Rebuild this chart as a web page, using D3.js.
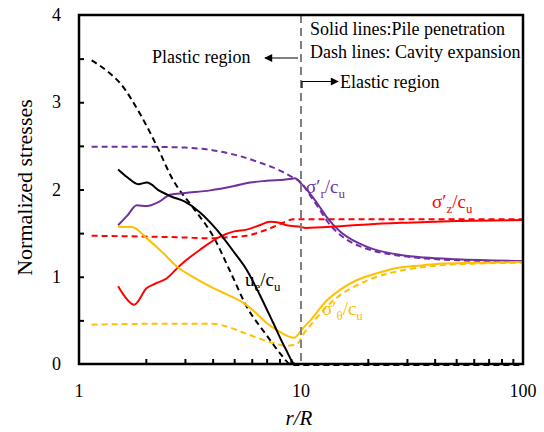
<!DOCTYPE html>
<html>
<head>
<meta charset="utf-8">
<script src="https://cdn.jsdelivr.net/npm/d3@7"></script>
<style>
  body { margin: 0; background: #fff; }
</style>
</head>
<body>
<div id="chart"></div>
<script>
// Normalized stresses around the pile: pile penetration (solid) vs cavity expansion (dash)

// r/R values and normalized stresses
const ueSolidR = [1.5, 1.65, 1.85, 2.02, 2.32, 2.6, 3.0, 3.5, 4.17, 5.0, 5.69, 6.5, 7.5, 8.5, 9.4, 10, 100];
const ueSolidV = [2.23, 2.14, 2.06, 2.08, 1.98, 1.92, 1.86, 1.74, 1.54, 1.28, 1.08, 0.80, 0.47, 0.18, 0, 0, 0];
const ueDashR = [1.14, 1.38, 1.53, 1.88, 2.24, 2.65, 3.27, 4.03, 4.8, 5.69, 7.0, 8.3, 8.9, 10, 100];
const ueDashV = [3.48, 3.33, 3.22, 2.87, 2.50, 2.11, 1.79, 1.46, 1.06, 0.66, 0.33, 0.08, 0, -0.02, -0.02];

const srSolidR = [1.5, 1.65, 1.82, 2.02, 2.3, 2.57, 3.0, 3.9, 5.0, 5.9, 7.0, 8.9, 9.4, 10, 11, 12, 13, 15, 18, 21, 28, 36, 50, 100];
const srSolidV = [1.59, 1.70, 1.82, 1.81, 1.86, 1.94, 1.96, 1.99, 2.04, 2.08, 2.10, 2.12, 2.13, 2.07, 1.95, 1.82, 1.69, 1.52, 1.39, 1.32, 1.25, 1.22, 1.20, 1.18];
const srDashR = [1.14, 2, 3, 4, 5, 6.5, 8, 9, 10, 11, 12, 13, 15, 18, 21, 28, 36, 50, 70, 100];
const srDashV = [2.49, 2.49, 2.48, 2.45, 2.40, 2.31, 2.22, 2.15, 2.08, 1.93, 1.79, 1.65, 1.48, 1.36, 1.30, 1.24, 1.21, 1.19, 1.18, 1.18];

const szSolidR = [1.5, 1.6, 1.77, 2.02, 2.2, 2.48, 2.85, 3.51, 4.32, 5.0, 5.69, 6.5, 7.25, 8.0, 8.6, 10, 10.5, 15, 20, 30, 50, 100];
const szSolidV = [0.89, 0.78, 0.68, 0.87, 0.92, 0.98, 1.13, 1.31, 1.46, 1.52, 1.54, 1.59, 1.63, 1.62, 1.59, 1.57, 1.56, 1.58, 1.60, 1.62, 1.64, 1.65];
const szDashR = [1.14, 2, 3, 3.76, 4.5, 5.69, 6.5, 7.5, 8.5, 9.23, 10, 100];
const szDashV = [1.47, 1.46, 1.45, 1.44, 1.45, 1.47, 1.51, 1.57, 1.63, 1.66, 1.66, 1.66];

const stSolidR = [1.5, 1.73, 2.02, 2.4, 2.75, 3.3, 3.89, 4.6, 5.5, 6.3, 7.0, 8.0, 9.3, 10.2, 11.2, 12.2, 13.1, 15, 17.8, 22, 27, 35, 42, 60, 100];
const stSolidV = [1.57, 1.57, 1.44, 1.27, 1.12, 0.99, 0.89, 0.80, 0.70, 0.58, 0.47, 0.37, 0.30, 0.41, 0.52, 0.64, 0.73, 0.85, 0.96, 1.04, 1.10, 1.13, 1.15, 1.16, 1.17];
const stDashR = [1.14, 2, 3, 4, 4.62, 5.5, 6.53, 7.5, 8.6, 9.5, 10.3, 11.5, 13.1, 15, 17.8, 22, 27, 35, 42, 60, 100];
const stDashV = [0.45, 0.46, 0.46, 0.46, 0.43, 0.36, 0.29, 0.24, 0.21, 0.22, 0.35, 0.50, 0.66, 0.79, 0.90, 1.00, 1.06, 1.11, 1.13, 1.15, 1.16];

const xTickLabels = [1, 10, 100];
const yTickLabels = [0, 1, 2, 3, 4];
const boundaryR = 10;

const series = [
  { r: srDashR, v: srDashV, color: '#7030A0', dash: true },
  { r: szDashR, v: szDashV, color: '#FF0000', dash: true },
  { r: stDashR, v: stDashV, color: '#FFC000', dash: true },
  { r: ueDashR, v: ueDashV, color: '#000000', dash: true },
  { r: srSolidR, v: srSolidV, color: '#7030A0', dash: false },
  { r: szSolidR, v: szSolidV, color: '#FF0000', dash: false },
  { r: stSolidR, v: stSolidV, color: '#FFC000', dash: false },
  { r: ueSolidR, v: ueSolidV, color: '#000000', dash: false }
];

const W = 544, H = 432;
const margin = { top: 15, right: 21, bottom: 68, left: 79 };
const FONT = '"Liberation Serif", "Times New Roman", "DejaVu Serif", serif';

const svg = d3.select('#chart').append('svg')
  .attr('width', W).attr('height', H)
  .attr('font-family', FONT)
  .style('font-family', FONT);

const x = d3.scaleLog().domain([1, 100]).range([margin.left, W - margin.right]);
const y = d3.scaleLinear().domain([0, 4]).range([H - margin.bottom, margin.top]);

svg.append('defs').append('marker')
  .attr('id', 'arrow')
  .attr('viewBox', '0 0 10 10')
  .attr('refX', 9).attr('refY', 5)
  .attr('markerWidth', 10).attr('markerHeight', 8)
  .attr('markerUnits', 'userSpaceOnUse')
  .attr('orient', 'auto')
  .append('path').attr('d', 'M0,0 L10,5 L0,10 Z').attr('fill', '#000');

const line = d3.line()
  .x(d => x(d[0]))
  .y(d => y(d[1]))
  .curve(d3.curveMonotoneX);

const plot = svg.append('g');
plot.append('clipPath').attr('id', 'clip')
  .append('rect')
  .attr('x', margin.left).attr('y', margin.top - 2)
  .attr('width', W - margin.left - margin.right)
  .attr('height', H - margin.top - margin.bottom + 4);

const curves = plot.append('g').attr('clip-path', 'url(#clip)');
series.forEach(s => {
  curves.append('path')
    .datum(s.r.map((r, i) => [r, s.v[i]]))
    .attr('d', line)
    .attr('fill', 'none')
    .attr('stroke', s.color)
    .attr('stroke-width', 2)
    .attr('stroke-dasharray', s.dash ? '6,4' : null);
});

// plastic / elastic boundary
svg.append('line')
  .attr('x1', x(boundaryR)).attr('x2', x(boundaryR))
  .attr('y1', y(4)).attr('y2', y(0))
  .attr('stroke', '#808080').attr('stroke-width', 2)
  .attr('stroke-dasharray', '8,5');

// axes (ticks inward)
const xAxis = d3.axisBottom(x)
  .tickValues([2, 3, 4, 5, 6, 7, 8, 9, 20, 30, 40, 50, 60, 70, 80, 90])
  .tickSize(-5).tickFormat('');
const gx = svg.append('g').attr('transform', `translate(0,${y(0)})`).call(xAxis);
gx.select('.domain').remove();
gx.selectAll('.tick line').attr('stroke', '#000').attr('stroke-width', 2);

const yAxis = d3.axisLeft(y)
  .tickValues(d3.range(0.5, 4, 0.5))
  .tickSize(-5).tickFormat('');
const gy = svg.append('g').attr('transform', `translate(${margin.left},0)`).call(yAxis);
gy.select('.domain').remove();
gy.selectAll('.tick line').attr('stroke', '#000').attr('stroke-width', 2);

svg.append('rect')
  .attr('x', margin.left).attr('y', margin.top)
  .attr('width', W - margin.left - margin.right)
  .attr('height', H - margin.top - margin.bottom)
  .attr('fill', 'none').attr('stroke', '#000').attr('stroke-width', 2.5);

svg.selectAll('.xlab').data(xTickLabels).enter().append('text')
  .attr('x', d => x(d)).attr('y', y(0) + 33)
  .attr('text-anchor', 'middle').attr('font-size', 18)
  .text(d => d);

svg.selectAll('.ylab').data(yTickLabels).enter().append('text')
  .attr('x', margin.left - 18).attr('y', d => y(d) + 6)
  .attr('text-anchor', 'end').attr('font-size', 18)
  .text(d => d);

svg.append('text')
  .attr('x', x(10) - 2).attr('y', 425)
  .attr('text-anchor', 'middle').attr('font-size', 21)
  .attr('font-style', 'italic')
  .text('r/R');

svg.append('text')
  .attr('transform', `translate(32,${y(2) - 2}) rotate(-90)`)
  .attr('text-anchor', 'middle').attr('font-size', 22)
  .text('Normalized stresses');

// annotations
svg.append('text').attr('x', 152).attr('y', 63).attr('font-size', 18).text('Plastic region');
svg.append('line')
  .attr('x1', x(boundaryR) - 3).attr('y1', 58).attr('x2', 265).attr('y2', 58)
  .attr('stroke', '#000').attr('stroke-width', 1.2)
  .attr('marker-end', 'url(#arrow)');

svg.append('path')
  .attr('d', `M${x(boundaryR) + 1},88 V81.5 H338`)
  .attr('fill', 'none').attr('stroke', '#000').attr('stroke-width', 1.2)
  .attr('marker-end', 'url(#arrow)');
svg.append('text').attr('x', 340).attr('y', 88).attr('font-size', 18).text('Elastic region');

svg.append('text').attr('x', 310).attr('y', 35).attr('font-size', 18).text('Solid lines:Pile penetration');
svg.append('text').attr('x', 310).attr('y', 58).attr('font-size', 18).text('Dash lines: Cavity expansion');

// curve labels: sigma'/c_u with subscripts
function ratioLabel(px, py, main, sub, color) {
  const t = svg.append('text').attr('x', px).attr('y', py)
    .attr('font-size', 19).attr('fill', color);
  t.append('tspan').text(main);
  t.append('tspan').attr('font-size', 13).attr('dy', 5).text(sub);
  t.append('tspan').attr('dy', -5).text('/c');
  t.append('tspan').attr('font-size', 13).attr('dy', 5).text('u');
}
ratioLabel(306, 193, 'σ′', 'r', '#7030A0');
ratioLabel(432, 208, 'σ′', 'z', '#FF0000');
ratioLabel(322, 315, 'σ′', 'θ', '#FFC000');
ratioLabel(245, 286, 'u', 'e', '#000000');
</script>
</body>
</html>
